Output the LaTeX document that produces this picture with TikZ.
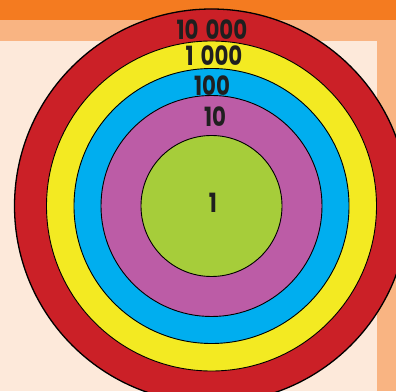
\documentclass[tikz,border=0pt]{standalone}
\usepackage{fontspec}
\setmainfont{Poppins}
\definecolor{topor}{HTML}{F47B20}
\definecolor{lightor}{HTML}{F9B482}
\definecolor{peach}{HTML}{FDE9DA}
\definecolor{ringred}{HTML}{CB2027}
\definecolor{ringyel}{HTML}{F3EA22}
\definecolor{ringblue}{HTML}{00AEEF}
\definecolor{ringmag}{HTML}{BC5CA6}
\definecolor{ringgreen}{HTML}{A6CD3A}
\tikzset{
  ring/.style={draw=black, line width=0.9pt},
  lbl/.style={inner sep=0pt, xscale=0.82, yscale=1.02, transform shape, font=\bfseries\fontsize{26}{26}\selectfont, text=black!88}
}
\begin{document}
\begin{tikzpicture}[x=1pt,y=1pt]
\useasboundingbox (0,0) rectangle (396,391);
% backgrounds
\fill[peach] (0,0) rectangle (396,391);
\fill[lightor] (0,350) rectangle (396,371);
\fill[lightor] (377,0) rectangle (396,371);
\fill[topor] (0,371) rectangle (396,391);
% rings
\coordinate (c) at (211.5,185);
\filldraw[ring, fill=ringred, line width=1.3pt] (c) circle (197);
\filldraw[ring, fill=ringyel] (c) circle (165);
\filldraw[ring, fill=ringblue] (c) circle (137.5);
\filldraw[ring, fill=ringmag] (c) circle (110.5);
\filldraw[ring, fill=ringgreen] (c) circle (70.5);
% labels
\node[lbl] (t10000) at (212,361) {10\hspace{3pt} 000};
\node[lbl] (t1000) at (214,335) {1\hspace{3pt} 000};
\node[lbl] (t100) at (212,305) {100};
\node[lbl] (t10) at (215,274) {10};
\node[lbl] (t1) at (213,188) {1};
\end{tikzpicture}
\end{document}
